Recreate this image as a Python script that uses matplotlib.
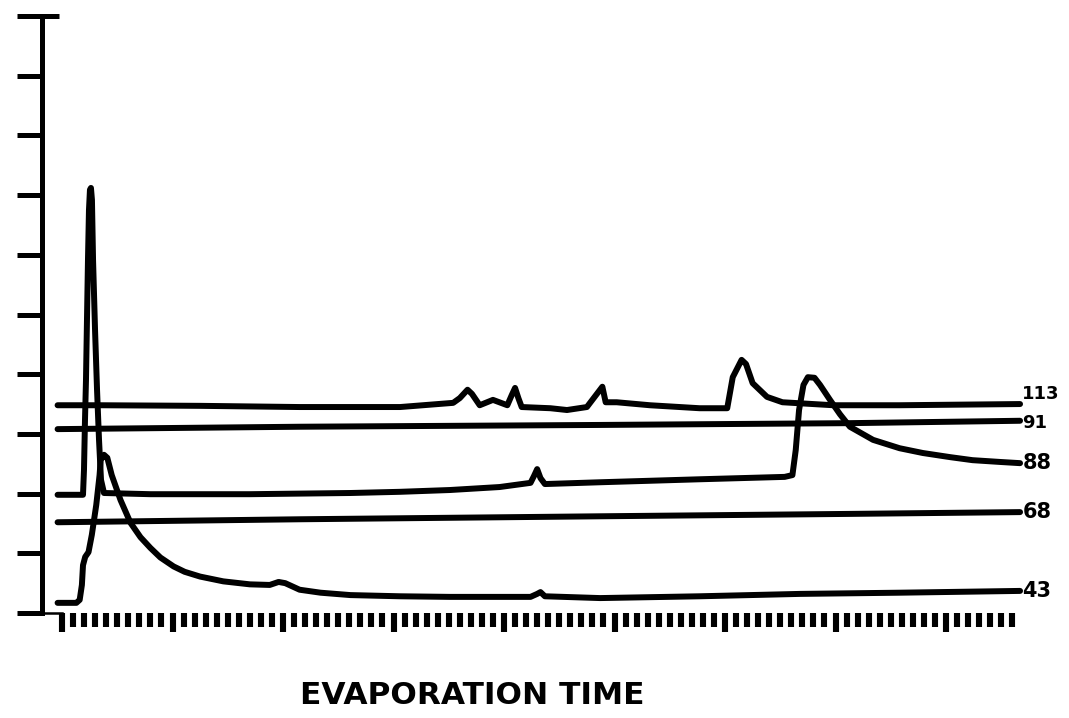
import matplotlib
matplotlib.use("Agg")
import matplotlib.pyplot as plt
from matplotlib.ticker import MultipleLocator

# ion traces recorded during evaporation, keyed by m/z
time_113 = [-0.4, 3.4, 12.5, 21.5, 30.6, 35.4, 36.0, 36.7, 37.1, 37.8, 39.0, 40.3, 40.7, 41.0,
            41.3, 41.6, 44.2, 45.7, 47.5, 48.2, 48.9, 49.2, 50.2, 53.2, 57.7, 60.2, 60.7, 61.5,
            61.9, 62.5, 63.8, 65.2, 69.8, 75.8, 86.7]
sig_113 = [3.48, 3.48, 3.47, 3.45, 3.45, 3.52, 3.60, 3.74, 3.67, 3.48, 3.57, 3.48, 3.65, 3.77,
           3.60, 3.45, 3.43, 3.40, 3.45, 3.62, 3.79, 3.53, 3.53, 3.48, 3.43, 3.43, 3.95, 4.24,
           4.17, 3.85, 3.62, 3.53, 3.48, 3.48, 3.50]

time_91 = [-0.4, 21.5, 48.7, 71.3, 86.7]
sig_91 = [3.08, 3.12, 3.15, 3.18, 3.22]

time_88 = [-0.4, 1.90, 1.99, 2.08, 2.17, 2.26, 2.35, 2.44, 2.53, 2.62, 2.71, 2.81, 2.99, 3.17,
           3.35, 3.53, 3.80, 8.0, 17.0, 26.1, 30.6, 35.1, 39.6, 42.4, 42.7, 43.0, 43.3, 43.7,
           48.7, 57.7, 65.4, 66.1, 66.4, 66.7, 67.1, 67.5, 68.1, 68.6, 69.5, 70.4, 71.3, 73.4,
           75.8, 77.9, 80.4, 82.4, 84.9, 86.7]
sig_88 = [1.98, 1.98, 2.40, 3.23, 3.90, 4.91, 5.91, 6.75, 7.09, 7.12, 6.92, 5.91, 4.74, 3.74,
          2.90, 2.23, 2.01, 1.99, 1.99, 2.01, 2.03, 2.06, 2.11, 2.18, 2.29, 2.41, 2.26, 2.16,
          2.19, 2.24, 2.28, 2.31, 2.73, 3.40, 3.82, 3.95, 3.94, 3.82, 3.57, 3.33, 3.12, 2.90,
          2.76, 2.68, 2.61, 2.56, 2.53, 2.51]

time_68 = [-0.4, 21.5, 48.7, 71.3, 86.7]
sig_68 = [1.52, 1.57, 1.62, 1.66, 1.69]

time_43 = [-0.4, 1.3, 1.6, 1.8, 1.9, 2.1, 2.4, 2.7, 3.1, 3.4, 3.5, 3.8, 4.1, 4.5, 5.3, 6.2,
           7.1, 8.0, 8.9, 10.1, 11.1, 12.5, 14.6, 17.0, 18.8, 19.6, 20.2, 21.5, 23.4, 26.1,
           30.6, 35.1, 39.6, 42.4, 43.0, 43.3, 43.7, 48.7, 57.7, 66.8, 75.8, 86.7]
sig_43 = [0.17, 0.17, 0.22, 0.47, 0.80, 0.94, 1.02, 1.31, 1.81, 2.31, 2.56, 2.65, 2.60, 2.31,
          1.89, 1.51, 1.27, 1.09, 0.93, 0.78, 0.69, 0.61, 0.53, 0.48, 0.47, 0.52, 0.50, 0.39,
          0.34, 0.30, 0.28, 0.27, 0.27, 0.27, 0.32, 0.35, 0.28, 0.25, 0.28, 0.32, 0.34, 0.37]

traces = [
    ("113", time_113, sig_113, 3.66, 13),
    ("91", time_91, sig_91, 3.18, 13),
    ("88", time_88, sig_88, 2.52, 15),
    ("68", time_68, sig_68, 1.69, 15),
    ("43", time_43, sig_43, 0.37, 15),
]

fig = plt.figure(figsize=(10.69, 7.18), dpi=100)
ax = fig.add_axes([42 / 1069, 105 / 718, 988 / 1069, 597 / 718])

for name, t, s, label_y, size in traces:
    ax.plot(t, s, color="black", lw=4.3, solid_capstyle="round",
            solid_joinstyle="round", clip_on=False)
    ax.text(86.9, label_y, name, fontsize=size, fontweight="bold",
            ha="left", va="center", clip_on=False)

ax.set_xlim(-1.81, 87.6)
ax.set_ylim(0, 10)

# axis frame: heavy left spine, short stub at the bottom
for side in ["top", "right"]:
    ax.spines[side].set_visible(False)
ax.spines["left"].set_linewidth(3.6)
ax.spines["bottom"].set_linewidth(1.8)
ax.spines["bottom"].set_bounds(-1.81, 0)

ax.yaxis.set_major_locator(MultipleLocator(1))
ax.tick_params(axis="y", direction="out", length=18, width=3.6, labelleft=False)
ax.hlines(10, -1.81, -0.3, color="black", lw=3.6, clip_on=False)

ax.xaxis.set_major_locator(MultipleLocator(10))
ax.tick_params(axis="x", which="major", direction="out", length=14, width=4.4,
               labelbottom=False)
ax.tick_params(axis="x", which="minor", direction="out", length=10, width=4.4)
ax.set_xticks([t for t in range(0, 87)], minor=True)

fig.text(472 / 1069, 1 - 696 / 718, "EVAPORATION TIME", fontsize=22.5,
         fontweight="bold", ha="center", va="center")

fig.savefig("out.png", dpi=100, facecolor="white")
